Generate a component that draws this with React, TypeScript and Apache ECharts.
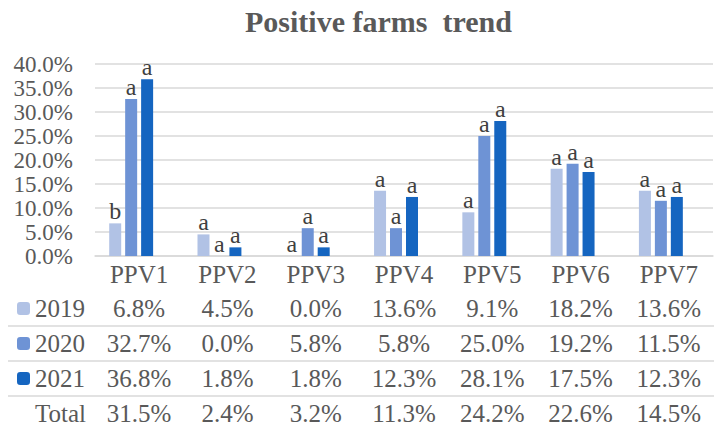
import React, { useEffect, useRef } from "react";
import * as echarts from "echarts";

const categories = ["PPV1", "PPV2", "PPV3", "PPV4", "PPV5", "PPV6", "PPV7"];
const v2019 = [6.8, 4.5, 0.0, 13.6, 9.1, 18.2, 13.6];
const v2020 = [32.7, 0.0, 5.8, 5.8, 25.0, 19.2, 11.5];
const v2021 = [36.8, 1.8, 1.8, 12.3, 28.1, 17.5, 12.3];
const vTotal = [31.5, 2.4, 3.2, 11.3, 24.2, 22.6, 14.5];
const letters2019 = ["b", "a", "a", "a", "a", "a", "a"];
const letters2020 = ["a", "a", "a", "a", "a", "a", "a"];
const letters2021 = ["a", "a", "a", "a", "a", "a", "a"];
const seriesNames = ["2019", "2020", "2021", "Total"];
const titleText = "Positive farms  trend";

const FONT = '"Liberation Serif", "Times New Roman", serif';
const TXT = "#595959";
const colors = ["#b1c2e5", "#6e93d5", "#1565c0"];

const pct = (v: number) => v.toFixed(1) + "%";

export default function App() {
  const ref = useRef<HTMLDivElement>(null);
  useEffect(() => {
    if (!ref.current) return;
    const chart = echarts.init(ref.current, undefined, { renderer: "svg" });
    const gridBottomY = 256;
    const rowCenters = [308.5, 343.5, 378.5, 413.5];
    const rows = [v2019, v2020, v2021, vTotal];
    const tableAxes = rows.map((arr, i) => ({
      type: "category",
      gridIndex: 0,
      position: "bottom",
      offset: rowCenters[i] - gridBottomY,
      data: arr.map(pct),
      axisLine: { show: false },
      axisTick: { show: false },
      splitLine: { show: false },
      axisLabel: {
        interval: 0,
        margin: 0,
        verticalAlign: "middle",
        fontSize: 25,
        fontFamily: FONT,
        color: TXT,
      },
    }));
    const barLabel = (letters: string[]) => ({
      show: true,
      position: "top",
      distance: 0,
      fontSize: 24,
      fontFamily: FONT,
      color: "#404040",
      formatter: (p: any) => letters[p.dataIndex],
    });
    const lineYs = [326, 361, 396];
    chart.setOption({
      animation: false,
      title: {
        text: titleText,
        left: 240,
        top: 1,
        textStyle: { fontSize: 30, fontWeight: "bold", fontFamily: FONT, color: TXT },
      },
      grid: { left: 95, right: 11, top: 64, bottom: 432 - gridBottomY, containLabel: false },
      legend: {
        orient: "vertical",
        left: 17,
        top: 296,
        padding: 0,
        itemWidth: 13,
        itemHeight: 13,
        itemGap: 10,
        selectedMode: false,
        data: seriesNames,
        textStyle: { fontSize: 25, lineHeight: 25, fontFamily: FONT, color: TXT },
      },
      xAxis: [
        {
          type: "category",
          data: categories,
          axisLine: { show: true, lineStyle: { color: "#d9d9d9", width: 1.5 } },
          axisTick: { show: false },
          axisLabel: {
            interval: 0,
            margin: 18,
            verticalAlign: "middle",
            fontSize: 25,
            fontFamily: FONT,
            color: TXT,
          },
        },
        ...tableAxes,
      ],
      yAxis: {
        type: "value",
        min: 0,
        max: 40,
        interval: 5,
        axisLine: { show: false },
        axisTick: { show: false },
        splitLine: { lineStyle: { color: "#d9d9d9", width: 1.5 } },
        axisLabel: {
          margin: 22,
          fontSize: 23,
          lineHeight: 23,
          showMinLabel: true,
          showMaxLabel: true,
          fontFamily: FONT,
          color: TXT,
          formatter: (v: number) => pct(v),
        },
      },
      series: [
        { name: "2019", type: "bar", data: v2019, barWidth: 12, barGap: "33%", itemStyle: { color: colors[0] }, label: barLabel(letters2019) },
        { name: "2020", type: "bar", data: v2020, barWidth: 12, barGap: "33%", itemStyle: { color: colors[1] }, label: barLabel(letters2020) },
        { name: "2021", type: "bar", data: v2021, barWidth: 12, barGap: "33%", itemStyle: { color: colors[2] }, label: barLabel(letters2021) },
        { name: "Total", type: "bar", data: vTotal, barWidth: 12, barGap: "33%", itemStyle: { color: "#ffffff", opacity: 0 }, label: { show: false } },
      ],
      graphic: lineYs.map((y) => ({
        type: "line",
        shape: { x1: 8, y1: y, x2: 714, y2: y },
        style: { stroke: "#d9d9d9", lineWidth: 1.5 },
        silent: true,
      })),
    });
    return () => chart.dispose();
  }, []);
  return (
    <div
      ref={ref}
      style={{ position: "fixed", left: 0, top: 0, width: 724, height: 432, background: "#ffffff" }}
    />
  );
}
